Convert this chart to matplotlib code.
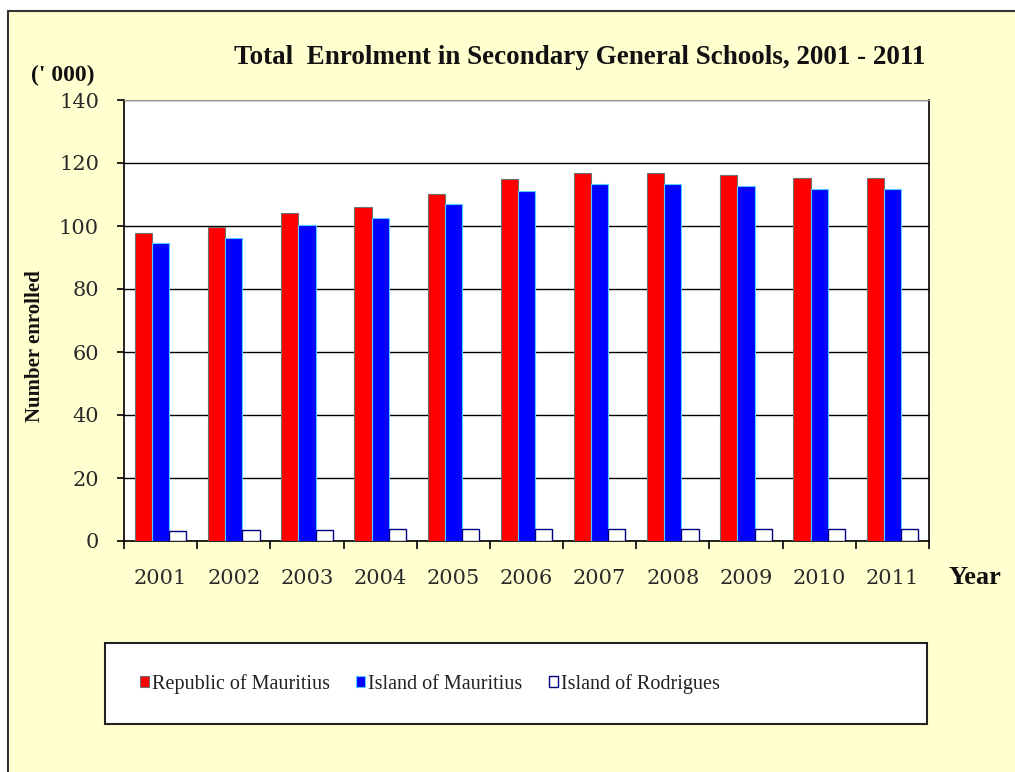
import matplotlib.pyplot as plt
import numpy as np
from matplotlib.patches import Rectangle

years = ['2001', '2002', '2003', '2004', '2005', '2006',
         '2007', '2008', '2009', '2010', '2011']
republic = [97.7, 99.8, 104.0, 106.1, 110.2, 114.8, 116.7, 116.7, 116.2, 115.1, 115.1]
island = [94.5, 96.3, 100.3, 102.4, 107.0, 111.1, 113.2, 113.2, 112.7, 111.6, 111.6]
rodrigues = [3.2, 3.6, 3.6, 3.7, 3.7, 3.8, 3.8, 3.8, 3.8, 3.8, 3.8]
series_names = ['Republic of Mauritius', 'Island of Mauritius', 'Island of Rodrigues']
yticks = [0, 20, 40, 60, 80, 100, 120, 140]

serif = ['Liberation Serif', 'DejaVu Serif']
plt.rcParams['font.family'] = serif

fig = plt.figure(figsize=(10.15, 7.72), dpi=100)
fig.patch.set_facecolor('white')

# yellow panel behind everything
fig.patches.append(Rectangle((8 / 1015, -0.01), 1.02, 0.9858 + 0.01,
                             transform=fig.transFigure, facecolor='#FFFFD0',
                             edgecolor='#333333', linewidth=1.5, zorder=-5))

ax = fig.add_axes([124 / 1015, 1 - 541 / 772, (929 - 124) / 1015, (541 - 100) / 772])
ax.set_zorder(2)
ax.set_facecolor('white')

x = np.arange(len(years))
w = 0.235
ax.bar(x - w, republic, w, color='#FF0000', edgecolor='#707070', linewidth=0.8,
       label=series_names[0], zorder=3)
ax.bar(x, island, w, color='#0000FF', edgecolor='#55CCFF', linewidth=0.8,
       label=series_names[1], zorder=3)
ax.bar(x + w, rodrigues, w, color='white', edgecolor='#000080', linewidth=1.0,
       label=series_names[2], zorder=3)

ax.set_xlim(-0.5, len(years) - 0.5)
ax.set_ylim(0, 140)
ax.set_yticks(yticks)
ax.yaxis.grid(True, color='black', linewidth=1.0, zorder=1)
ax.set_axisbelow(True)

# category labels centred, tick marks between categories
ax.set_xticks(x)
ax.set_xticklabels(years, fontsize=15, color='#2a2a2a', family=['DejaVu Serif'])
ax.set_xticks(np.arange(-0.5, len(years)), minor=True)
ax.tick_params(axis='x', which='major', length=0, pad=20)
ax.tick_params(axis='x', which='minor', length=6, width=1.2, color='black', direction='out')
ax.tick_params(axis='y', length=5, width=1.2, direction='out', labelsize=15,
               labelcolor='#2a2a2a', pad=13)
for lbl in ax.get_yticklabels():
    lbl.set_family(['DejaVu Serif'])

for side in ['left', 'bottom', 'right']:
    ax.spines[side].set_color('black')
    ax.spines[side].set_linewidth(1.2)
ax.spines['top'].set_color('#999999')
ax.spines['top'].set_linewidth(0.8)

fig.text(580 / 1015, 1 - 58 / 772, 'Total  Enrolment in Secondary General Schools, 2001 - 2011',
         ha='center', va='center', fontsize=19.5, fontweight='bold', color='#111111')
fig.text(63 / 1015, 1 - 75 / 772, "(' 000)", ha='center', va='center',
         fontsize=17, fontweight='bold', color='#111111')
fig.text(975 / 1015, 1 - 578 / 772, 'Year', ha='center', va='center',
         fontsize=19, fontweight='bold', color='#111111')
fig.text(35 / 1015, 1 - 346 / 772, 'Number enrolled', ha='center', va='center',
         rotation=90, fontsize=15, fontweight='bold', color='#111111')

# legend box
fig.patches.append(Rectangle((105 / 1015, 1 - 724 / 772), (927 - 105) / 1015, (724 - 643) / 772,
                             transform=fig.transFigure, facecolor='white',
                             edgecolor='#222222', linewidth=1.5, zorder=1))
handles, labels = ax.get_legend_handles_labels()
leg = fig.legend(handles, labels, loc='center left', bbox_to_anchor=(132 / 1015, 1 - 684 / 772),
                 ncol=3, frameon=False, fontsize=14.5, handlelength=0.45, handleheight=0.45,
                 handletextpad=0.15, columnspacing=1.3, borderaxespad=0)
for t in leg.get_texts():
    t.set_color('#222222')

fig.savefig('out.png', dpi=100)
